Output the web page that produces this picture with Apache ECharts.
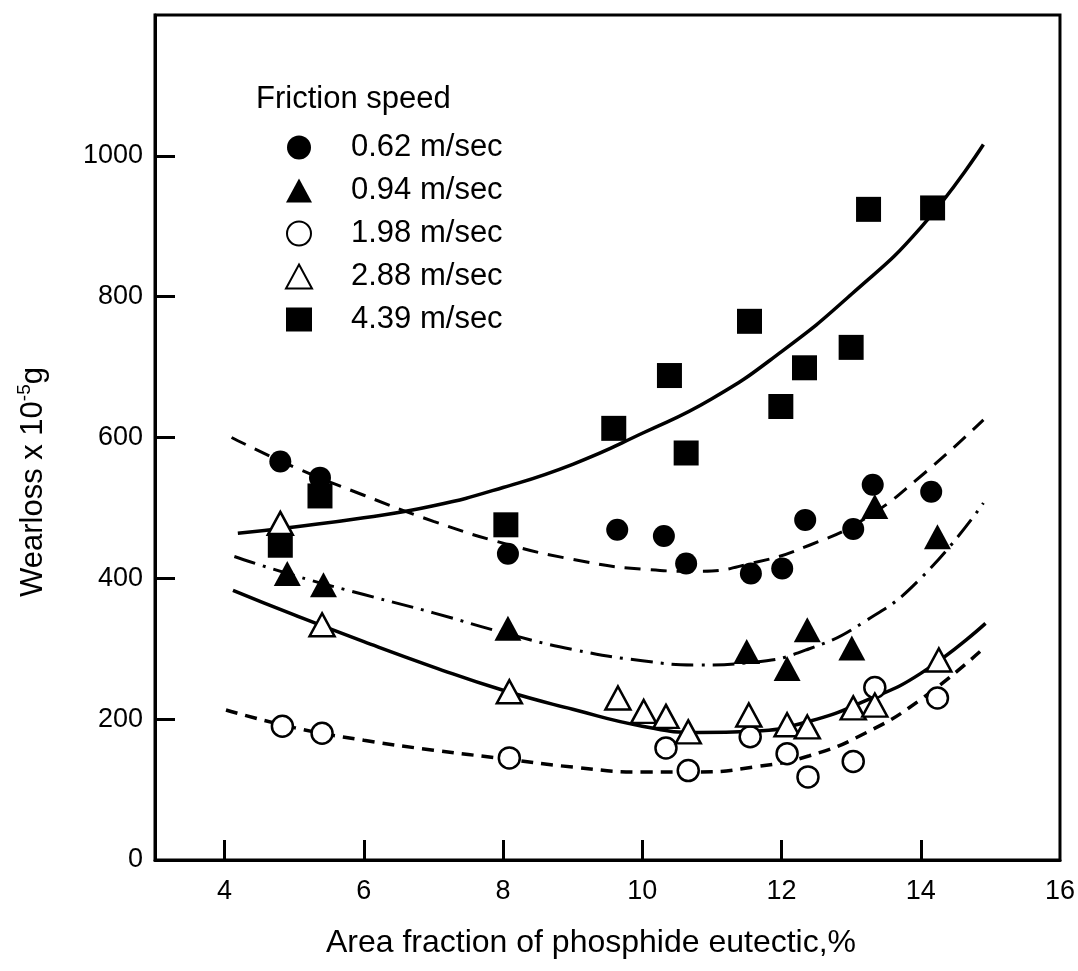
<!DOCTYPE html>
<html>
<head>
<meta charset="utf-8">
<title>Wearloss vs area fraction of phosphide eutectic</title>
<script src="https://cdn.jsdelivr.net/npm/echarts@6/dist/echarts.min.js"></script>
<style>
  html, body { margin: 0; padding: 0; background: #fff; }
  #chart { width: 1078px; height: 971px; }
</style>
</head>
<body>
<div id="chart"></div>
<script>
// measured points, [area fraction %, wearloss x 10^-5 g]
const speeds = ['0.62 m/sec', '0.94 m/sec', '1.98 m/sec', '2.88 m/sec', '4.39 m/sec']

const pts062 = [[4.80, 566], [5.37, 543], [8.07, 435], [9.64, 469], [10.31, 460], [10.63, 421],
  [11.56, 407], [12.01, 414], [12.34, 483], [13.03, 470], [13.31, 533], [14.15, 523]]
const pts094 = [[4.90, 407], [5.42, 391], [8.07, 329], [11.50, 296], [12.08, 272], [12.37, 327],
  [13.01, 301], [13.34, 502], [14.24, 459]]
const pts198 = [[4.83, 190], [5.40, 180], [8.09, 145], [10.34, 159], [10.66, 127], [11.55, 175],
  [12.08, 151], [12.38, 118], [13.03, 140], [13.34, 245], [14.24, 230]]
const pts288 = [[4.80, 478], [5.40, 334], [8.09, 239], [9.65, 230], [10.02, 211], [10.34, 204],
  [10.66, 182], [11.53, 206], [12.08, 192], [12.37, 189], [13.03, 216], [13.34, 220], [14.26, 284]]
const pts439 = [[4.80, 447], [5.37, 517], [8.04, 476], [9.59, 613], [10.39, 688], [10.63, 578],
  [11.54, 765], [11.99, 644], [12.33, 699], [13.00, 728], [13.25, 924], [14.17, 926]]

// fitted curves as drawn in the figure
const fit062 = [[4.1, 600], [5.0, 558], [6.0, 518], [7.0, 481], [8.0, 450], [9.0, 427],
  [10.0, 413], [10.8, 410], [11.6, 422], [12.4, 447], [13.2, 485], [14.0, 545], [14.9, 625]]
const fit094 = [[4.14, 431], [5.0, 404], [6.0, 377], [7.0, 351], [8.0, 323], [9.0, 299],
  [10.0, 283], [10.8, 277], [11.6, 281], [12.4, 300], [13.2, 339], [14.0, 400], [14.9, 507]]
const fit198 = [[4.02, 213], [5.0, 188], [6.0, 170], [7.0, 156], [8.0, 144], [9.0, 132],
  [10.0, 125], [10.8, 125], [11.6, 132], [12.4, 148], [13.2, 180], [14.0, 228], [14.93, 303]]
const fit288 = [[4.12, 383], [5.0, 348], [6.0, 310], [7.0, 274], [8.0, 241], [9.0, 214],
  [10.0, 190], [10.8, 181], [11.6, 183], [12.4, 197], [13.2, 226], [14.0, 265], [14.93, 336]]
const fit439 = [[4.19, 464], [5.0, 473], [6.0, 486], [7.0, 503], [8.0, 529], [9.0, 562],
  [10.0, 606], [11.0, 655], [12.0, 722], [13.0, 803], [14.0, 898], [14.9, 1016]]

const xTicks = [4, 6, 8, 10, 12, 14]
const xLabels = [4, 6, 8, 10, 12, 14, 16]
const yTicks = [200, 400, 600, 800, 1000]
const yLabels = [0, 200, 400, 600, 800, 1000]

const font = 'Liberation Sans'
const chart = echarts.init(document.getElementById('chart'))

function dots(name, data, symbol, size, open) {
  return {
    name: name,
    type: 'scatter',
    data: data,
    symbol: symbol,
    symbolSize: size,
    z: 5,
    itemStyle: open
      ? { color: '#fff', borderColor: '#000', borderWidth: 2.5, opacity: 1 }
      : { color: '#000', opacity: 1 }
  }
}

function curve(data, dash, width) {
  return {
    type: 'line',
    data: data,
    smooth: 0.5,
    showSymbol: false,
    silent: true,
    z: 2,
    lineStyle: { color: '#000', width: width, type: dash }
  }
}

const option = {
  backgroundColor: '#fff',
  animation: false,
  grid: {
    left: 155,
    right: 11,
    top: 15,
    bottom: 111,
    show: true,
    borderColor: '#000',
    borderWidth: 3
  },
  legend: {
    data: speeds,
    orient: 'vertical',
    left: 280,
    top: 127,
    itemWidth: 26,
    itemHeight: 24,
    itemGap: 12,
    selectedMode: false,
    textStyle: { fontFamily: font, fontSize: 31, color: '#000', lineHeight: 30, padding: [0, 0, 0, 34] }
  },
  graphic: [{
    type: 'text',
    left: 256,
    top: 84,
    style: { text: 'Friction speed', font: '31px "Liberation Sans"', fill: '#000' }
  }],
  xAxis: {
    type: 'value',
    min: 3,
    max: 16,
    name: 'Area fraction of phosphide eutectic,%',
    nameLocation: 'middle',
    nameGap: 67,
    nameTextStyle: { fontFamily: font, fontSize: 32, color: '#000', padding: [0, 33, 0, 0] },
    axisLine: { lineStyle: { color: '#000', width: 3 } },
    axisTick: { inside: true, length: 20, lineStyle: { color: '#000', width: 3 }, customValues: xTicks },
    axisLabel: { fontFamily: font, fontSize: 27, color: '#000', margin: 18, customValues: xLabels },
    splitLine: { show: false }
  },
  yAxis: {
    type: 'value',
    min: 0,
    max: 1200,
    name: '{a|Wearloss x 10}{b|-5}{a|g}',
    nameLocation: 'middle',
    nameGap: 104,
    nameTextStyle: {
      color: '#000',
      padding: [0, 89, 0, 0],
      rich: {
        a: { fontFamily: font, fontSize: 31, color: '#000', lineHeight: 36 },
        b: { fontFamily: font, fontSize: 19, color: '#000', verticalAlign: 'top', lineHeight: 36 }
      }
    },
    axisLine: { lineStyle: { color: '#000', width: 3 } },
    axisTick: { inside: true, length: 20, lineStyle: { color: '#000', width: 3 }, customValues: yTicks },
    axisLabel: {
      fontFamily: font, fontSize: 27, color: '#000', margin: 12, customValues: yLabels,
      formatter: function (v) { return String(v) }
    },
    splitLine: { show: false }
  },
  series: [
    curve(fit062, [16, 10], 3),
    curve(fit094, [22, 8, 3, 8], 3),
    curve(fit198, [12, 8], 3.5),
    curve(fit288, 'solid', 3.5),
    curve(fit439, 'solid', 3.5),
    dots(speeds[0], pts062, 'circle', 22, false),
    dots(speeds[1], pts094, 'triangle', [27, 25], false),
    dots(speeds[2], pts198, 'circle', 21, true),
    dots(speeds[3], pts288, 'triangle', [25, 23], true),
    dots(speeds[4], pts439, 'rect', 25, false)
  ]
}

chart.setOption(option, true)
window.addEventListener('resize', () => {
  chart.resize()
})
</script>
</body>
</html>
